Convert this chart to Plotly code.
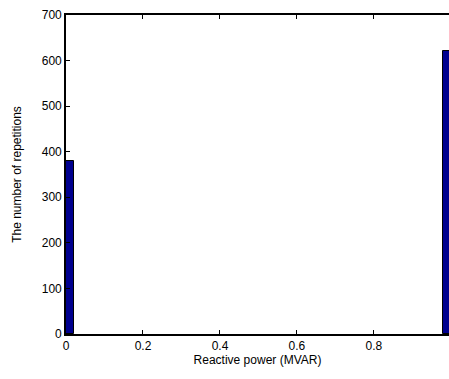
import plotly.graph_objects as go

bin_centers = [0.01, 0.99]
counts = [380, 620]
x_ticks = [0, 0.2, 0.4, 0.6, 0.8]
y_ticks = [0, 100, 200, 300, 400, 500, 600, 700]

fig = go.Figure()
fig.add_trace(go.Bar(
    x=bin_centers, y=counts, width=0.02,
    marker=dict(color="#00008F", line=dict(color="black", width=1)),
))

font = dict(family="Liberation Sans, Arial, sans-serif", size=12, color="black")
fig.update_layout(
    width=449, height=379,
    margin=dict(l=66, r=0, t=15, b=45, autoexpand=False),
    paper_bgcolor="white", plot_bgcolor="white",
    showlegend=False, bargap=0,
    font=font,
)
fig.update_xaxes(
    range=[0, 0.995], tickvals=x_ticks, ticktext=[str(v) for v in x_ticks],
    ticks="inside", ticklen=4, tickcolor="#000000", tickwidth=1,
    showline=True, linecolor="#000000", linewidth=1.6, layer="above traces",
    mirror="ticks", showgrid=False, zeroline=False, automargin=False,
    title=dict(text="Reactive power (MVAR)", standoff=3, font=font),
)
fig.update_yaxes(
    range=[0, 700], tickvals=y_ticks,
    ticks="inside", ticklen=4, tickcolor="#000000", tickwidth=1,
    showline=True, linecolor="#000000", linewidth=1.6, layer="above traces",
    mirror=False, showgrid=False, zeroline=False, automargin=False,
    title=dict(text="The number of repetitions", standoff=18, font=font),
)
fig.write_html("out.html", config={"displayModeBar": False},
               post_script="document.body.style.margin='0';document.body.style.overflow='hidden';")
